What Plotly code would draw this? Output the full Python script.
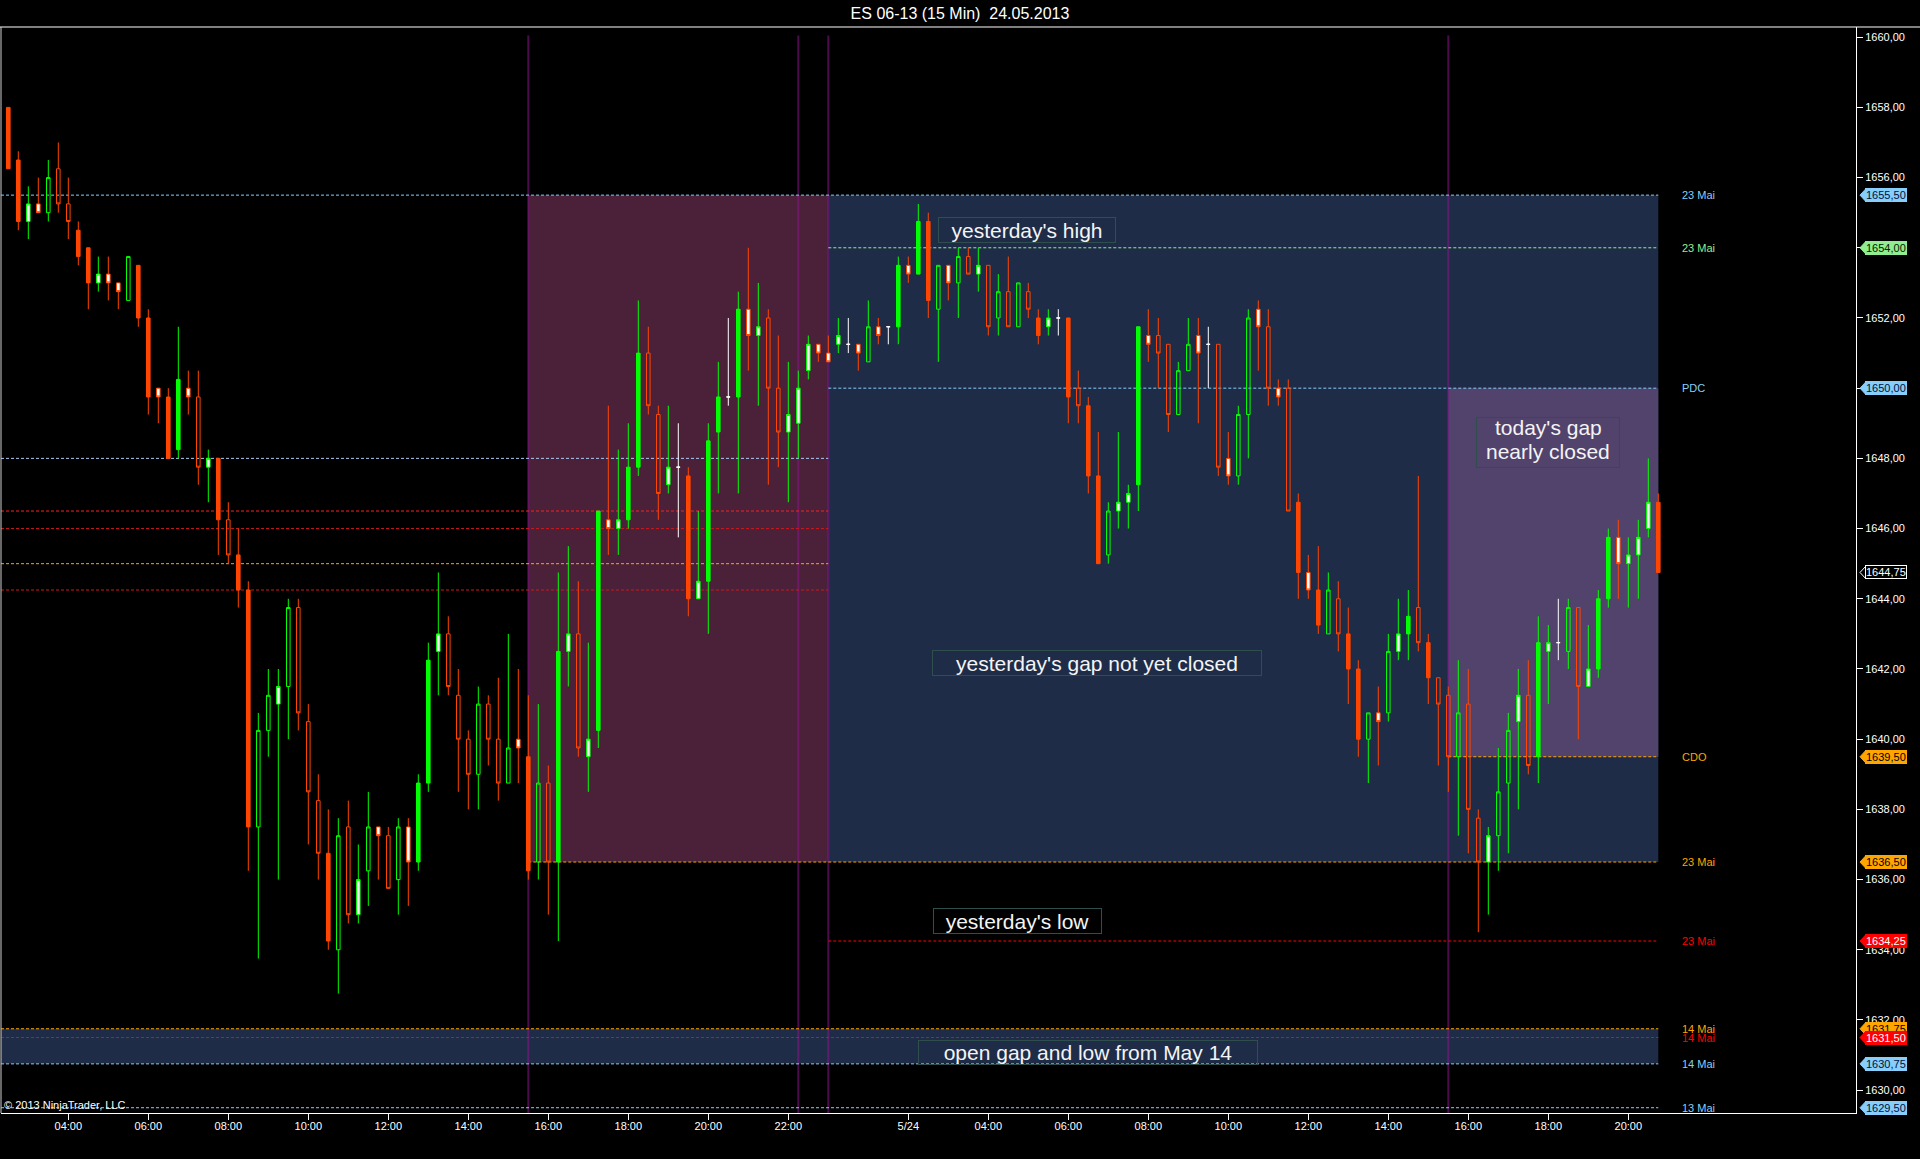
import plotly.graph_objects as go

# ES 06-13, 15 min bars
opens = [1658.0, 1656.5, 1654.75, 1655.25, 1655.0, 1656.25, 1655.25, 1654.5, 1654.0, 1653.0,
         1653.25, 1653.0, 1652.5, 1653.5, 1652.0, 1650.0, 1649.75, 1648.25, 1650.0, 1649.75,
         1647.75, 1648.0, 1646.25, 1645.25, 1644.25, 1637.5, 1640.25, 1641.0, 1641.5, 1643.75,
         1640.5, 1638.25, 1636.75, 1634.0, 1637.5, 1635.0, 1636.25, 1637.5, 1637.25, 1636.0,
         1637.5, 1636.5, 1638.75, 1642.5, 1643.0, 1641.25, 1640.0, 1639.0, 1641.0, 1640.0,
         1638.75, 1640.0, 1639.5, 1636.5, 1638.75, 1636.5, 1642.5, 1643.0, 1639.5, 1640.25,
         1646.25, 1646.0, 1646.25, 1647.75, 1651.0, 1649.25, 1647.25, 1647.75, 1647.5, 1644.0,
         1644.5, 1648.75, 1649.75, 1649.75, 1652.25, 1651.5, 1652.0, 1650.0, 1648.75, 1649.0,
         1650.5, 1651.25, 1651.0, 1651.25, 1651.25, 1651.25, 1650.75, 1651.75, 1651.75, 1651.75,
         1653.5, 1653.25, 1654.75, 1652.25, 1653.5, 1653.0, 1653.75, 1653.25, 1653.5, 1652.0,
         1652.75, 1651.75, 1652.75, 1652.0, 1651.75, 1652.0, 1652.0, 1650.0, 1649.5, 1647.5,
         1645.25, 1646.5, 1646.75, 1647.25, 1651.5, 1651.5, 1651.25, 1649.25, 1650.5, 1651.5,
         1651.25, 1651.25, 1648.0, 1647.5, 1649.25, 1652.25, 1651.75, 1650.0, 1650.0, 1646.75,
         1644.75, 1644.25, 1643.0, 1644.0, 1643.0, 1642.0, 1640.0, 1640.75, 1640.75, 1642.5,
         1643.0, 1643.75, 1642.75, 1641.75, 1641.25, 1639.5, 1641.0, 1637.75, 1636.5, 1637.25,
         1638.75, 1640.5, 1641.25, 1639.5, 1642.5, 1642.75, 1642.5, 1643.75, 1641.5, 1642.0,
         1644.0, 1645.75, 1645.0, 1645.25, 1646.0, 1646.75]
highs = [1658.0, 1656.75, 1655.75, 1656.0, 1656.5, 1657.0, 1656.0, 1654.75, 1654.0, 1653.75,
         1653.75, 1653.0, 1653.75, 1653.5, 1652.25, 1650.0, 1650.0, 1651.75, 1650.5, 1650.5,
         1648.25, 1648.0, 1646.75, 1646.0, 1644.5, 1640.75, 1642.0, 1642.0, 1644.0, 1644.0,
         1641.0, 1639.0, 1638.0, 1637.75, 1638.25, 1637.0, 1638.5, 1637.5, 1637.5, 1637.75,
         1637.75, 1639.0, 1642.75, 1644.75, 1643.5, 1642.0, 1640.25, 1641.5, 1641.25, 1641.75,
         1643.0, 1642.0, 1641.25, 1641.0, 1639.25, 1644.75, 1645.5, 1644.5, 1642.75, 1646.5,
         1649.5, 1648.25, 1649.0, 1652.5, 1651.75, 1649.5, 1649.5, 1649.0, 1647.75, 1646.5,
         1649.0, 1650.75, 1652.0, 1652.75, 1654.0, 1653.0, 1652.25, 1651.5, 1650.75, 1650.5,
         1651.5, 1651.25, 1651.5, 1652.0, 1652.0, 1651.25, 1652.5, 1652.0, 1651.75, 1653.75,
         1653.75, 1655.25, 1655.0, 1653.5, 1653.5, 1654.0, 1654.0, 1654.0, 1653.5, 1653.25,
         1653.75, 1653.0, 1653.0, 1652.25, 1652.25, 1652.25, 1652.0, 1650.5, 1649.75, 1648.75,
         1646.75, 1648.75, 1647.25, 1651.75, 1652.25, 1652.0, 1651.25, 1650.75, 1652.0, 1652.0,
         1651.75, 1651.25, 1648.75, 1649.5, 1652.25, 1652.5, 1652.25, 1650.25, 1650.25, 1647.0,
         1645.25, 1645.5, 1644.75, 1644.5, 1643.75, 1642.25, 1640.75, 1641.5, 1643.0, 1644.0,
         1644.25, 1647.5, 1643.0, 1641.75, 1641.5, 1642.25, 1642.0, 1638.0, 1637.5, 1639.75,
         1640.75, 1642.0, 1642.25, 1643.5, 1643.25, 1644.0, 1644.0, 1643.75, 1643.25, 1644.25,
         1646.0, 1646.25, 1645.75, 1646.25, 1648.0, 1647.0]
lows = [1656.25, 1654.5, 1654.25, 1655.0, 1654.75, 1655.0, 1654.25, 1653.5, 1652.25, 1652.75,
        1652.5, 1652.25, 1652.5, 1651.75, 1649.25, 1649.0, 1648.0, 1648.0, 1649.25, 1647.25,
        1646.75, 1645.25, 1645.0, 1643.75, 1636.25, 1633.75, 1639.5, 1636.0, 1640.0, 1640.25,
        1637.0, 1636.0, 1634.0, 1632.75, 1634.75, 1634.75, 1635.25, 1636.0, 1635.75, 1635.0,
        1635.25, 1636.25, 1638.5, 1641.25, 1641.25, 1638.5, 1638.0, 1638.0, 1639.25, 1638.25,
        1638.75, 1638.75, 1636.0, 1636.0, 1635.0, 1634.25, 1641.5, 1639.5, 1638.5, 1639.75,
        1645.25, 1645.25, 1646.0, 1647.5, 1649.25, 1646.25, 1647.0, 1645.75, 1643.5, 1644.0,
        1643.0, 1647.0, 1649.5, 1647.0, 1650.5, 1649.5, 1647.25, 1647.75, 1646.75, 1648.0,
        1650.25, 1650.75, 1650.75, 1651.0, 1651.0, 1650.5, 1650.75, 1651.25, 1651.25, 1651.25,
        1653.0, 1653.25, 1652.0, 1650.75, 1652.5, 1652.0, 1653.25, 1652.75, 1651.5, 1651.5,
        1651.75, 1651.75, 1652.0, 1651.25, 1651.5, 1651.5, 1649.0, 1649.0, 1647.0, 1645.0,
        1645.0, 1646.0, 1646.0, 1646.5, 1650.75, 1650.0, 1648.75, 1649.25, 1650.5, 1649.0,
        1650.0, 1647.5, 1647.25, 1647.25, 1648.0, 1650.5, 1649.5, 1649.5, 1646.5, 1644.0,
        1644.0, 1643.0, 1643.0, 1642.5, 1641.0, 1639.5, 1638.75, 1639.25, 1640.5, 1642.25,
        1642.25, 1642.5, 1641.0, 1639.25, 1638.5, 1637.25, 1636.75, 1634.5, 1635.0, 1636.25,
        1636.75, 1638.0, 1639.0, 1638.75, 1641.0, 1642.25, 1642.0, 1640.0, 1641.5, 1641.75,
        1643.75, 1644.0, 1643.75, 1644.0, 1645.75, 1644.75]
closes = [1656.25, 1654.75, 1655.25, 1655.0, 1656.0, 1655.25, 1654.75, 1653.75, 1653.0, 1653.25,
          1653.0, 1652.75, 1653.75, 1652.0, 1649.75, 1649.75, 1648.0, 1650.25, 1649.75, 1647.75,
          1648.0, 1646.25, 1645.25, 1644.25, 1637.5, 1640.25, 1641.25, 1641.5, 1643.75, 1640.75,
          1638.5, 1636.75, 1634.25, 1637.25, 1635.0, 1636.0, 1637.5, 1637.25, 1635.75, 1637.5,
          1636.5, 1638.75, 1642.25, 1643.0, 1641.5, 1640.0, 1639.0, 1641.0, 1640.0, 1638.75,
          1639.75, 1639.75, 1636.25, 1638.75, 1636.5, 1642.5, 1643.0, 1639.75, 1640.0, 1646.5,
          1646.0, 1646.25, 1647.75, 1651.0, 1649.5, 1647.0, 1647.75, 1647.75, 1644.0, 1644.5,
          1648.5, 1649.75, 1649.75, 1652.25, 1651.5, 1651.75, 1650.0, 1648.75, 1649.25, 1650.0,
          1651.25, 1651.0, 1650.75, 1651.5, 1651.25, 1651.0, 1651.75, 1651.5, 1651.75, 1653.5,
          1653.25, 1654.75, 1652.5, 1653.5, 1653.0, 1653.75, 1653.25, 1653.5, 1651.75, 1652.75,
          1651.75, 1653.0, 1652.25, 1651.5, 1652.0, 1652.0, 1649.75, 1649.5, 1647.5, 1645.0,
          1646.5, 1646.75, 1647.0, 1651.75, 1651.25, 1651.0, 1649.25, 1650.5, 1651.25, 1651.0,
          1651.25, 1647.75, 1647.5, 1649.25, 1652.0, 1651.75, 1650.0, 1649.75, 1646.5, 1644.75,
          1644.25, 1643.25, 1644.25, 1643.0, 1642.0, 1640.0, 1640.75, 1640.5, 1642.5, 1643.0,
          1643.5, 1642.75, 1641.75, 1641.0, 1639.5, 1640.75, 1638.0, 1636.5, 1637.25, 1638.5,
          1640.25, 1641.25, 1639.25, 1642.75, 1642.75, 1642.75, 1643.75, 1641.5, 1642.0, 1644.0,
          1645.75, 1645.0, 1645.25, 1645.75, 1646.75, 1644.75]
# body style per bar, ten bars per row: F filled, H hollow, W white body, D doji
styles = "".join([
    "FFWWHHHFFW", "WWHFFWFFWH", "WFHFFHHWHH", "HHFHHWHWHH", "WFFWHHHHHH",
    "HWFHHFWHWF", "WWFFHHWDFW", "FFDFWWHHWW", "WWWWDWHWDF", "WFFHWHHWHH",
    "HHHFWDFHFF", "HWWFWHHHHW", "DHWHHWHWHF", "WFHHFFHWHW", "FHFHHHHHWH",
    "HWHFWDHHWF", "FWWWWF",
])

tick_pos = [6, 14, 22, 30, 38, 46, 54, 62, 70, 78, 90, 98, 106, 114, 122, 130, 138, 146, 154, 162]
tick_txt = ["04:00", "06:00", "08:00", "10:00", "12:00", "14:00", "16:00", "18:00", "20:00", "22:00",
            "5/24", "04:00", "06:00", "08:00", "10:00", "12:00", "14:00", "16:00", "18:00", "20:00"]
price_ticks = list(range(1630, 1661, 2))

# session lines (bar index)
session_bars = [52, 79, 82, 144]

# horizontal levels: price, from bar, to bar, colour, right label
X0, X1 = -0.73, 184.77
Y0, Y1 = 1629.35, 1660.29
LAST = 165
levels = [
    (1655.50, X0, LAST, "#87cefa", "23 Mai"),
    (1654.00, 82, LAST, "#90ee90", "23 Mai"),
    (1650.00, 82, LAST, "#87cefa", "PDC"),
    (1648.00, X0, 82, "#a8c8f0", None),
    (1646.50, X0, 82, "#ff2020", None),
    (1646.00, X0, 82, "#d01818", None),
    (1645.00, X0, 82, "#ffa500", None),
    (1644.25, X0, 82, "#d01818", None),
    (1639.50, 144, LAST, "#ffa500", "CDO"),
    (1636.50, 52, LAST, "#ffa500", "23 Mai"),
    (1634.25, 82, LAST, "#ff0000", "23 Mai"),
    (1631.75, X0, LAST, "#ffa500", "14 Mai"),
    (1631.50, X0, LAST, "#ff0000", "14 Mai"),
    (1630.75, X0, LAST, "#87cefa", "14 Mai"),
    (1629.50, X0, LAST, "#87cefa", "13 Mai"),
]

# price flags on the axis: price, fill, text colour, border
flags = [
    (1655.50, "#87cefa", "#001040", "#87cefa"),
    (1654.00, "#90ee90", "#002000", "#90ee90"),
    (1650.00, "#87cefa", "#001040", "#87cefa"),
    (1644.75, "#000000", "#ffffff", "#ffffff"),
    (1639.50, "#ffa500", "#000000", "#ffa500"),
    (1636.50, "#ffa500", "#000000", "#ffa500"),
    (1634.25, "#ff0000", "#ffffff", "#ff0000"),
    (1631.75, "#ffa500", "#000000", "#ffa500"),
    (1631.50, "#ff0000", "#ffffff", "#ff0000"),
    (1630.75, "#87cefa", "#001040", "#87cefa"),
    (1629.50, "#87cefa", "#001040", "#87cefa"),
]

# zones: bar from, bar to, price low, price high, colour
zones = [
    (52, 82, 1636.5, 1655.5, "rgb(74,33,57)"),
    (82, LAST, 1636.5, 1655.5, "rgb(30,44,72)"),
    (144, LAST, 1639.5, 1650.0, "rgb(82,67,108)"),
    (X0, LAST, 1630.75, 1631.75, "rgb(30,44,72)"),
]

# comment boxes: text, bar, price, box width, box height (px)
notes = [
    ("yesterday's high", 101.9, 1654.51, 178, 26),
    ("yesterday's gap not yet closed", 108.9, 1642.16, 330, 26),
    ("\u00a0", 154.0, 1648.44, 144, 51),
    ("yesterday's low", 100.9, 1634.83, 169, 26),
    ("open gap and low from May 14", 108.0, 1631.07, 340, 25),
]
# the two-line note, one line at a time (tighter line spacing than plotly's <br>)
gap_lines = [("today's gap", 154.0, 1648.87), ("nearly closed", 154.0, 1648.21)]

UP, DOWN = "#00ff00", "#ff4500"
W, H = 1920, 1159
ML, MR, MT, MB = 1, 64, 27, 46
PW, PH = W - ML - MR, H - MT - MB
NOTE_FONT = dict(family="Liberation Sans", size=21, color="#f4f4f4")

fig = go.Figure()
for s in "FHWD":
    idx = [i for i in range(len(opens)) if styles[i] == s]
    if s == "F":
        inc = dict(line=dict(color=UP, width=1), fillcolor=UP)
        dec = dict(line=dict(color=DOWN, width=1), fillcolor=DOWN)
    elif s == "H":
        inc = dict(line=dict(color=UP, width=1), fillcolor="rgba(0,0,0,0)")
        dec = dict(line=dict(color=DOWN, width=1), fillcolor="rgba(0,0,0,0)")
    elif s == "W":
        inc = dict(line=dict(color=UP, width=1), fillcolor="white")
        dec = dict(line=dict(color=DOWN, width=1), fillcolor="white")
    else:
        inc = dict(line=dict(color="white", width=1), fillcolor="white")
        dec = dict(line=dict(color="white", width=1), fillcolor="white")
    fig.add_trace(go.Candlestick(
        x=idx,
        open=[opens[i] for i in idx], high=[highs[i] for i in idx],
        low=[lows[i] for i in idx], close=[closes[i] for i in idx],
        increasing=inc, decreasing=dec, whiskerwidth=0, showlegend=False,
    ))

for x0, x1, y0, y1, c in zones:
    fig.add_shape(type="rect", xref="x", yref="y", x0=x0, x1=x1, y0=y0, y1=y1,
                  fillcolor=c, line_width=0, layer="below")

for b in session_bars:
    fig.add_shape(type="line", xref="x", yref="y", x0=b, x1=b, y0=Y0, y1=1660.05,
                  line=dict(color="rgba(140,20,140,0.55)", width=2), layer="below")

for p, x0, x1, c, lab in levels:
    fig.add_shape(type="line", xref="x", yref="y", x0=x0, x1=x1, y0=p, y1=p,
                  line=dict(color=c, width=1, dash="3px,2px"), layer="below")
    if lab:
        fig.add_annotation(x=167.2, y=p, xref="x", yref="y", text=lab, showarrow=False,
                           xanchor="left", yanchor="middle",
                           font=dict(family="Liberation Sans", size=11, color=c))

def yp(p):
    return (p - Y0) / (Y1 - Y0)

for p, fill, tc, bc in flags:
    fig.add_shape(type="path", xref="paper", yref="paper",
                  path=f"M {1 + 4 / PW},{yp(p)} L {1 + 10 / PW},{yp(p) + 6.5 / PH} "
                       f"L {1 + 10 / PW},{yp(p) - 6.5 / PH} Z",
                  fillcolor=fill, line=dict(color=bc, width=1))
    fig.add_annotation(x=1 + 9 / PW, y=p, xref="paper", yref="y",
                       text=f"{p:.2f}".replace(".", ","), showarrow=False,
                       xanchor="left", yanchor="middle", bgcolor=fill, bordercolor=bc,
                       borderwidth=1, borderpad=0,
                       font=dict(family="Liberation Sans", size=11, color=tc))

for txt, bx, py, w, h in notes:
    fig.add_annotation(x=bx, y=py, xref="x", yref="y", text=txt, showarrow=False,
                       width=w - 2, height=h - 2, align="center", valign="middle",
                       bordercolor="#2f4f4f", borderwidth=1, borderpad=0, font=NOTE_FONT)
for txt, bx, py in gap_lines:
    fig.add_annotation(x=bx, y=py, xref="x", yref="y", text=txt, showarrow=False,
                       font=NOTE_FONT)

fig.add_annotation(x=0, y=0, xref="paper", yref="paper", text="© 2013 NinjaTrader, LLC",
                   showarrow=False, xanchor="left", yanchor="bottom", xshift=1,
                   font=dict(family="Liberation Sans", size=11, color="white"))

# frame lines: top border across the whole width, left border
fig.add_shape(type="line", xref="paper", yref="paper", x0=-ML / PW, x1=1 + MR / PW, y0=1, y1=1,
              line=dict(color="white", width=1))
fig.add_shape(type="line", xref="paper", yref="paper", x0=0, x1=0, y0=0, y1=1,
              line=dict(color="#d0d0d0", width=1))

fig.update_layout(
    width=W, height=H,
    margin=dict(l=ML, r=MR, t=MT, b=MB),
    paper_bgcolor="black", plot_bgcolor="black",
    title=dict(text="ES 06-13 (15 Min) \u00a024.05.2013", x=0.5, xref="container",
               y=1 - 13.5 / H, yref="container", yanchor="middle",
               font=dict(family="Liberation Sans", size=16, color="white")),
    boxgap=0.45, boxgroupgap=0.35,
    showlegend=False,
    hovermode=False,
    xaxis=dict(range=[X0, X1], tickvals=tick_pos, ticktext=tick_txt, ticks="outside",
               ticklen=6, tickcolor="white", showline=True, linecolor="white", linewidth=1,
               showgrid=False, zeroline=False, rangeslider=dict(visible=False),
               ticklabelstandoff=-3,
               tickfont=dict(family="Liberation Sans", size=11, color="white")),
    yaxis=dict(range=[Y0, Y1], side="right", tickvals=price_ticks,
               ticktext=[f"{v:.2f}".replace(".", ",") for v in price_ticks],
               ticks="outside", ticklen=6, tickcolor="white", showline=True,
               linecolor="white", linewidth=1, showgrid=False, zeroline=False,
               tickfont=dict(family="Liberation Sans", size=11, color="white")),
)

# drop the default page margin so the 1920x1159 figure fills the window
fig.write_html("out.html", config={"displayModeBar": False},
               post_script="document.body.style.margin='0';"
               "document.body.style.background='black';document.body.style.overflow='hidden';")
